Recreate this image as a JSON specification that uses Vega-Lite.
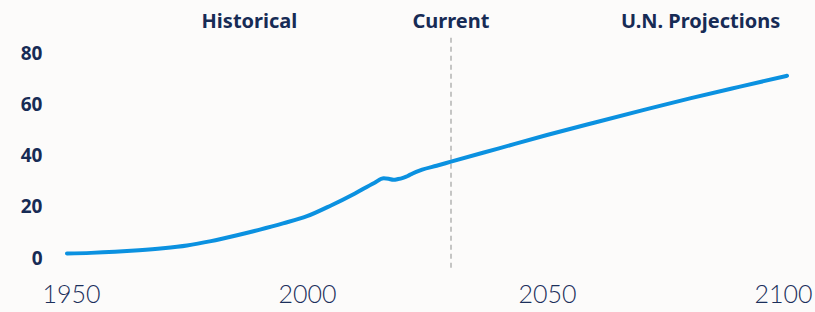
{
  "$schema": "https://vega.github.io/schema/vega-lite/v6.json",
  "autosize": {"type": "none"},
  "width": 720,
  "height": 205,
  "padding": {"left": 67, "top": 53, "right": 28, "bottom": 54},
  "background": "#fcfbfa",
  "config": {"view": {"stroke": null}},
  "datasets": {
    "series": [
      {"year": 1950, "value": 1.8},
      {"year": 1955, "value": 2.0},
      {"year": 1960, "value": 2.4},
      {"year": 1965, "value": 3.0},
      {"year": 1970, "value": 3.8},
      {"year": 1975, "value": 4.9},
      {"year": 1980, "value": 6.6},
      {"year": 1985, "value": 8.7},
      {"year": 1990, "value": 11.0},
      {"year": 1995, "value": 13.5},
      {"year": 2000, "value": 16.3},
      {"year": 2005, "value": 20.5},
      {"year": 2010, "value": 25.2},
      {"year": 2014, "value": 29.3},
      {"year": 2016, "value": 31.1},
      {"year": 2017, "value": 30.9},
      {"year": 2018, "value": 30.5},
      {"year": 2019, "value": 30.8},
      {"year": 2020, "value": 31.3},
      {"year": 2021, "value": 32.0},
      {"year": 2022, "value": 33.0},
      {"year": 2024, "value": 34.5},
      {"year": 2027, "value": 36.0},
      {"year": 2030, "value": 37.6},
      {"year": 2040, "value": 42.8},
      {"year": 2050, "value": 48.0},
      {"year": 2060, "value": 52.9},
      {"year": 2070, "value": 57.7},
      {"year": 2080, "value": 62.4},
      {"year": 2090, "value": 66.8},
      {"year": 2100, "value": 71.1}
    ],
    "labels": [
      {"year": 1988, "value": 92, "text": "Historical"},
      {"year": 2030, "value": 92, "text": "Current"},
      {"year": 2082, "value": 92, "text": "U.N. Projections"}
    ],
    "current": [{"year": 2030, "top": 86, "bottom": -4}]
  },
  "layer": [
    {
      "data": {"name": "current"},
      "mark": {"type": "rule", "color": "#a8a8a8", "strokeWidth": 1.3, "strokeDash": [5, 4], "clip": false},
      "encoding": {
        "x": {"field": "year", "type": "quantitative"},
        "y": {"field": "top", "type": "quantitative"},
        "y2": {"field": "bottom"}
      }
    },
    {
      "data": {"name": "series"},
      "mark": {"type": "line", "color": "#0b91e0", "strokeWidth": 4, "interpolate": "monotone", "strokeCap": "round"},
      "encoding": {
        "x": {
          "field": "year", "type": "quantitative",
          "scale": {"domain": [1950, 2100], "nice": false, "zero": false},
          "axis": {
            "values": [1950, 2000, 2050, 2100], "format": "d", "title": null,
            "domain": false, "ticks": false, "grid": false,
            "labelFont": "Lato", "labelFontWeight": 300, "labelFontSize": 25,
            "labelColor": "#1b2f5b", "labelPadding": 24,
            "labelFlush": true, "labelFlushOffset": 25, "labelOverlap": false
          }
        },
        "y": {
          "field": "value", "type": "quantitative",
          "scale": {"domain": [0, 80], "nice": false},
          "axis": {
            "values": [0, 20, 40, 60, 80], "title": null,
            "domain": false, "ticks": false, "grid": false,
            "labelFont": "Noto Sans", "labelFontWeight": "bold", "labelFontSize": 19,
            "labelColor": "#172b55", "labelPadding": 25
          }
        }
      }
    },
    {
      "data": {"name": "labels"},
      "mark": {"type": "text", "font": "Noto Sans", "fontWeight": "bold", "fontSize": 20, "color": "#172b55", "align": "center", "baseline": "middle", "clip": false},
      "encoding": {
        "x": {"field": "year", "type": "quantitative"},
        "y": {"field": "value", "type": "quantitative"},
        "text": {"field": "text"}
      }
    }
  ]
}
